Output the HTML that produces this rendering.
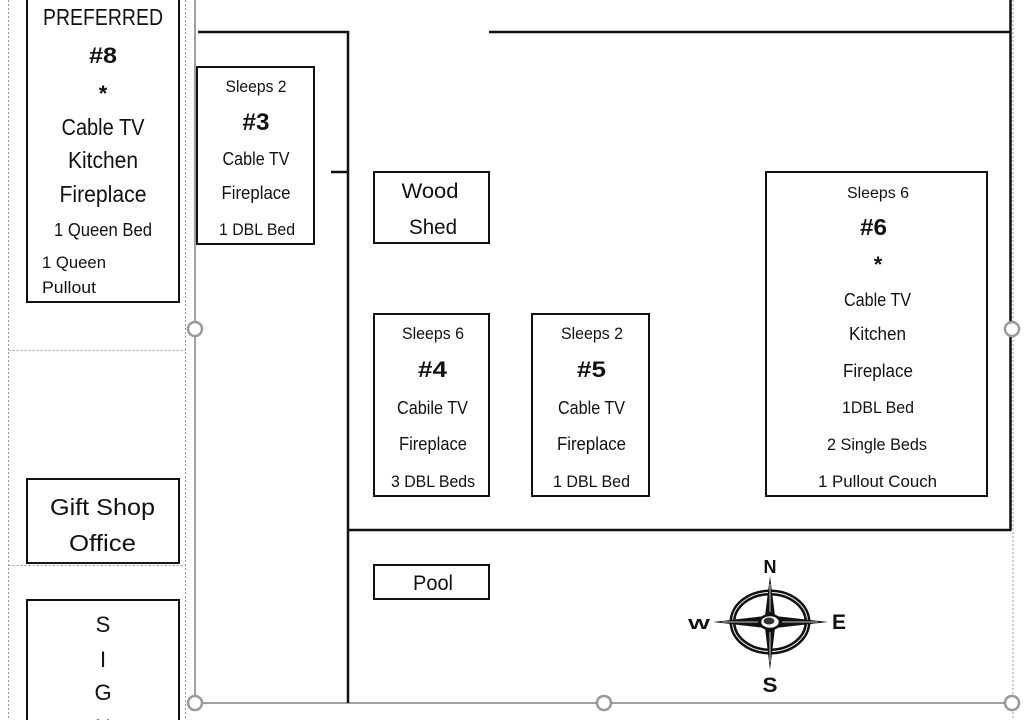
<!DOCTYPE html>
<html><head><meta charset="utf-8"><style>
html,body{margin:0;padding:0;background:#fff;width:1025px;height:720px;overflow:hidden}
svg{display:block}
text{font-family:"Liberation Sans",sans-serif;fill:#111}
.b{font-weight:bold}
</style></head><body>
<svg width="1025" height="720" viewBox="0 0 1025 720" xmlns="http://www.w3.org/2000/svg">
<!-- dashed guides left column -->
<g stroke="#9a9a9a" stroke-width="1" stroke-dasharray="2,2" fill="none">
<line x1="8.5" y1="0" x2="8.5" y2="720"/>
<line x1="185.5" y1="0" x2="185.5" y2="720"/>
<line x1="8.5" y1="350.5" x2="185.5" y2="350.5"/>
<line x1="8.5" y1="565.5" x2="185.5" y2="565.5"/>
<line x1="1013" y1="0" x2="1013" y2="720"/>
</g>
<!-- selection box gray lines -->
<g stroke="#a0a0a0" stroke-width="2" fill="none">
<line x1="195" y1="0" x2="195" y2="703"/>
<line x1="195" y1="703" x2="1012" y2="703"/>
</g>
<!-- road lines -->
<g stroke="#111" stroke-width="2.5" fill="none">
<line x1="198" y1="32" x2="349" y2="32"/>
<line x1="348" y1="31" x2="348" y2="703"/>
<line x1="331" y1="172" x2="348" y2="172"/>
<line x1="489" y1="32" x2="1011" y2="32"/>
<line x1="1010.5" y1="0" x2="1010.5" y2="531"/>
<line x1="347" y1="530" x2="1011" y2="530"/>
</g>
<!-- boxes -->
<g stroke="#111" stroke-width="2" fill="#fff">
<rect x="27" y="-5" width="152" height="307"/>
<rect x="197" y="67" width="117" height="177"/>
<rect x="374" y="172" width="115" height="71"/>
<rect x="374" y="314" width="115" height="182"/>
<rect x="532" y="314" width="117" height="182"/>
<rect x="766" y="172" width="221" height="324"/>
<rect x="374" y="565" width="115" height="34"/>
<rect x="27" y="479" width="152" height="84"/>
<rect x="27" y="600" width="152" height="130"/>
</g>
<!-- #8 -->
<g text-anchor="middle">
<text x="103" y="25" font-size="23" textLength="120" lengthAdjust="spacingAndGlyphs">PREFERRED</text>
<text x="103" y="63" font-size="22" class="b" textLength="28" lengthAdjust="spacingAndGlyphs">#8</text>
<text x="103" y="101" font-size="22" class="b">*</text>
<text x="103" y="135" font-size="23" textLength="83" lengthAdjust="spacingAndGlyphs">Cable TV</text>
<text x="103" y="168" font-size="23" textLength="70" lengthAdjust="spacingAndGlyphs">Kitchen</text>
<text x="103" y="202" font-size="23" textLength="87" lengthAdjust="spacingAndGlyphs">Fireplace</text>
<text x="103" y="236" font-size="18" textLength="98" lengthAdjust="spacingAndGlyphs">1 Queen Bed</text>
</g>
<text x="42" y="268" font-size="17" textLength="64" lengthAdjust="spacingAndGlyphs">1 Queen</text>
<text x="42" y="293" font-size="17" textLength="54" lengthAdjust="spacingAndGlyphs">Pullout</text>
<!-- #3 -->
<g text-anchor="middle">
<text x="256" y="92" font-size="16.5" textLength="61" lengthAdjust="spacingAndGlyphs">Sleeps 2</text>
<text x="256" y="130" font-size="24" class="b" textLength="27" lengthAdjust="spacingAndGlyphs">#3</text>
<text x="256" y="165" font-size="18" textLength="67" lengthAdjust="spacingAndGlyphs">Cable TV</text>
<text x="256" y="199" font-size="18" textLength="69" lengthAdjust="spacingAndGlyphs">Fireplace</text>
<text x="257" y="235" font-size="17" textLength="76" lengthAdjust="spacingAndGlyphs">1 DBL Bed</text>
</g>
<!-- Wood shed / pool -->
<g text-anchor="middle">
<text x="430" y="198" font-size="21" textLength="57" lengthAdjust="spacingAndGlyphs">Wood</text>
<text x="433" y="234" font-size="21" textLength="48" lengthAdjust="spacingAndGlyphs">Shed</text>
<text x="433" y="590" font-size="21" textLength="40" lengthAdjust="spacingAndGlyphs">Pool</text>
</g>
<!-- #4 -->
<g text-anchor="middle">
<text x="433" y="339" font-size="17" textLength="62" lengthAdjust="spacingAndGlyphs">Sleeps 6</text>
<text x="432.5" y="377" font-size="22" class="b" textLength="29" lengthAdjust="spacingAndGlyphs">#4</text>
<text x="432.5" y="414" font-size="18" textLength="71" lengthAdjust="spacingAndGlyphs">Cabile TV</text>
<text x="433" y="450" font-size="18" textLength="68" lengthAdjust="spacingAndGlyphs">Fireplace</text>
<text x="433" y="487" font-size="17" textLength="84" lengthAdjust="spacingAndGlyphs">3 DBL Beds</text>
</g>
<!-- #5 -->
<g text-anchor="middle">
<text x="592" y="339" font-size="17" textLength="62" lengthAdjust="spacingAndGlyphs">Sleeps 2</text>
<text x="591.5" y="377" font-size="22" class="b" textLength="29" lengthAdjust="spacingAndGlyphs">#5</text>
<text x="591.5" y="414" font-size="18" textLength="67" lengthAdjust="spacingAndGlyphs">Cable TV</text>
<text x="591.5" y="450" font-size="18" textLength="69" lengthAdjust="spacingAndGlyphs">Fireplace</text>
<text x="591.5" y="487" font-size="17" textLength="77" lengthAdjust="spacingAndGlyphs">1 DBL Bed</text>
</g>
<!-- #6 -->
<g text-anchor="middle">
<text x="878" y="198" font-size="16" textLength="62" lengthAdjust="spacingAndGlyphs">Sleeps 6</text>
<text x="873.5" y="235" font-size="23" class="b" textLength="27" lengthAdjust="spacingAndGlyphs">#6</text>
<text x="878" y="272" font-size="22" class="b">*</text>
<text x="877.5" y="306" font-size="18" textLength="67" lengthAdjust="spacingAndGlyphs">Cable TV</text>
<text x="877.5" y="340" font-size="18" textLength="57" lengthAdjust="spacingAndGlyphs">Kitchen</text>
<text x="878" y="377" font-size="18" textLength="70" lengthAdjust="spacingAndGlyphs">Fireplace</text>
<text x="878" y="413" font-size="17" textLength="72" lengthAdjust="spacingAndGlyphs">1DBL Bed</text>
<text x="877" y="450" font-size="17" textLength="100" lengthAdjust="spacingAndGlyphs">2 Single Beds</text>
<text x="877.5" y="487" font-size="17" textLength="119" lengthAdjust="spacingAndGlyphs">1 Pullout Couch</text>
</g>
<!-- Gift shop / Sign -->
<g text-anchor="middle">
<text x="102.5" y="515" font-size="23" textLength="105" lengthAdjust="spacingAndGlyphs">Gift Shop</text>
<text x="102.5" y="551" font-size="23" textLength="67" lengthAdjust="spacingAndGlyphs">Office</text>
<text x="103" y="632" font-size="22">S</text>
<text x="103" y="667" font-size="22">I</text>
<text x="103" y="700" font-size="22">G</text>
<text x="103" y="735" font-size="22">N</text>
</g>
<!-- compass -->
<g>
<ellipse cx="770" cy="622" rx="37.5" ry="29.5" fill="none" stroke="#111" stroke-width="6"/>
<ellipse cx="770" cy="622" rx="37.5" ry="29.5" fill="none" stroke="#fff" stroke-width="0.9"/>
<polygon points="770,576 775,616 828,622 775,628 770,670 765,628 713,622 765,616" fill="#111"/>
<g stroke="#fff" stroke-width="0.8">
<line x1="770" y1="584" x2="770" y2="612"/>
<line x1="770" y1="632" x2="770" y2="662"/>
<line x1="722" y1="622" x2="758" y2="622"/>
<line x1="782" y1="622" x2="818" y2="622"/>
</g>
<ellipse cx="770" cy="622" rx="10" ry="7" fill="#fff" stroke="#111" stroke-width="2.5"/>
<ellipse cx="769" cy="621" rx="5.5" ry="3.5" fill="#333"/>
<text x="770" y="573" font-size="18" class="b" text-anchor="middle">N</text>
<text x="770" y="692" font-size="21" class="b" text-anchor="middle" textLength="15" lengthAdjust="spacingAndGlyphs">S</text>
<text x="699" y="629" font-size="15" class="b" text-anchor="middle" textLength="22" lengthAdjust="spacingAndGlyphs">W</text>
<text x="839" y="629" font-size="21" class="b" text-anchor="middle" textLength="14" lengthAdjust="spacingAndGlyphs">E</text>
</g>
<!-- handles -->
<g fill="#fff" stroke="#999" stroke-width="2.5">
<circle cx="195" cy="329" r="7"/>
<circle cx="195" cy="703" r="7"/>
<circle cx="604" cy="703" r="7"/>
<circle cx="1012" cy="703" r="7"/>
<circle cx="1012" cy="329" r="7"/>
</g>
</svg>
</body></html>
